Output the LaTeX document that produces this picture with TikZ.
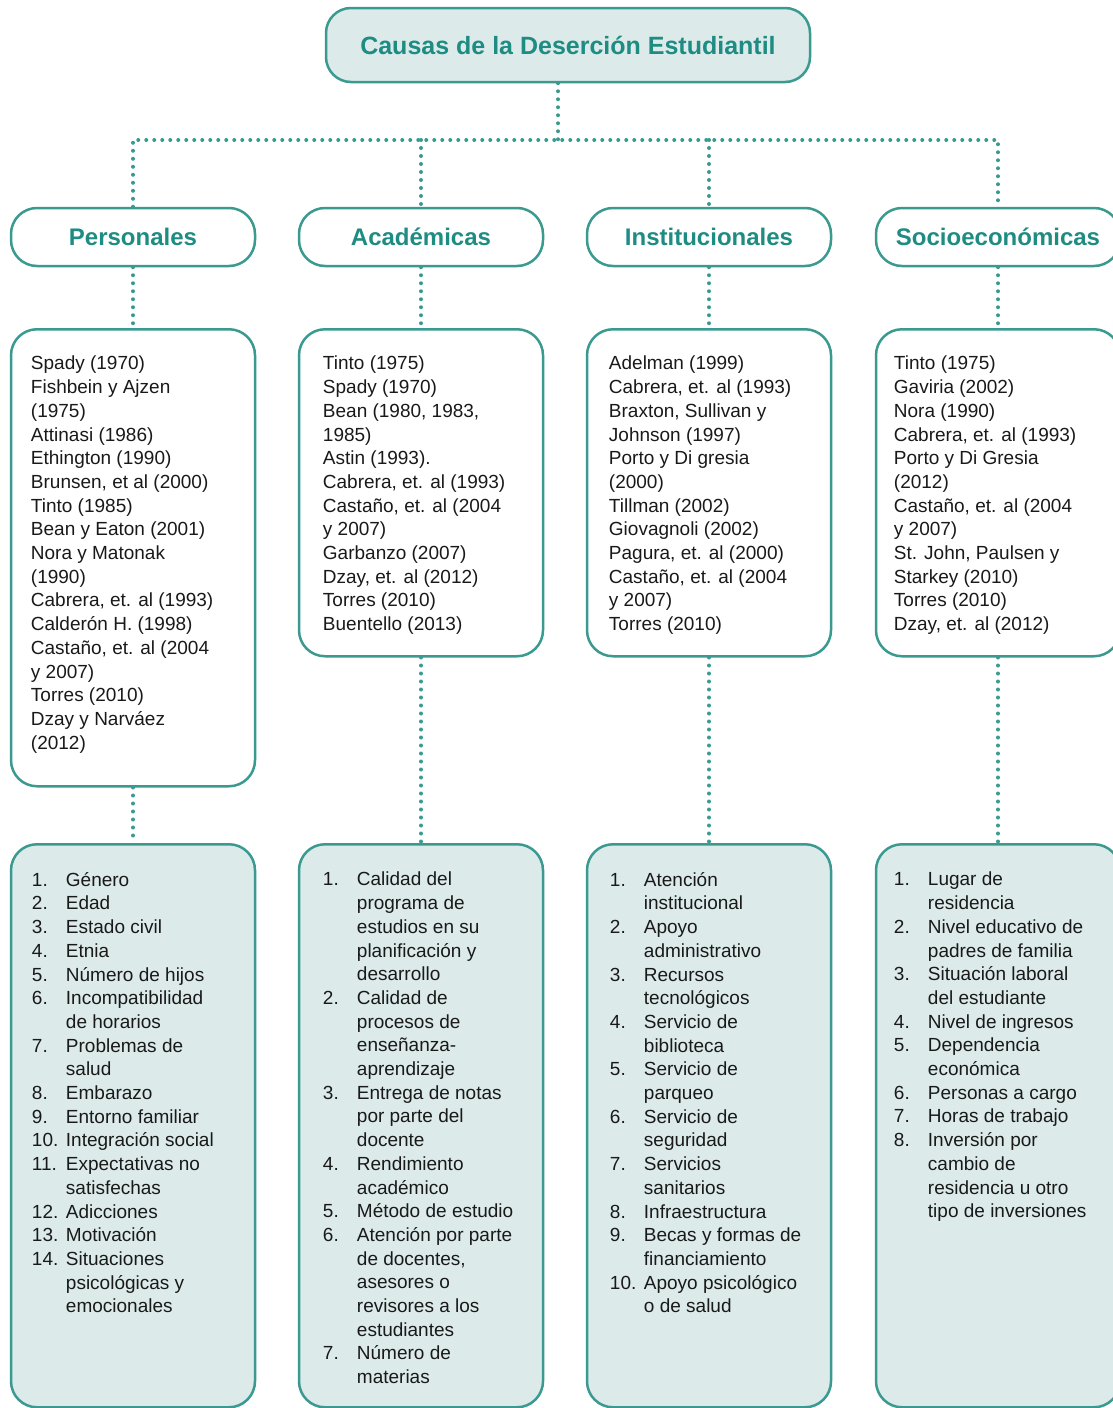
\documentclass[tikz,border=0pt]{standalone}
\usepackage{fontspec}
\setmainfont{Liberation Sans}
\usetikzlibrary{positioning}
\definecolor{tealline}{HTML}{3A9A90}
\definecolor{tealfill}{HTML}{DCEBEA}
\definecolor{tealtext}{HTML}{1E8C82}
\newcommand{\itm}[2]{\makebox[34pt][l]{#1}#2}
\newcommand{\cont}[1]{\hspace*{34pt}#1}

\begin{document}
\begin{tikzpicture}[x=1pt, y=-1pt,
    box/.style={draw=tealline, line width=2.5pt, rounded corners=26pt, minimum width=244pt, inner sep=0pt},
    cat/.style={box, minimum height=58pt, font=\fontsize{24}{28}\selectfont\bfseries, text=tealtext},
    refbox/.style={box, anchor=north},
    listbox/.style={box, anchor=north, fill=tealfill, minimum height=563pt},
    reftext/.style={inner sep=0pt, align=left, font=\fontsize{19}{23.7}\selectfont, text=black!90},
    link/.style={tealline, line width=4pt, line cap=round, dash pattern=on 0pt off 8pt}]
    \useasboundingbox (0,0) rectangle (1112,1408);

    % title and categories
    \node (Title) [box, fill=tealfill, minimum width=484pt, minimum height=74pt, rounded corners=25pt,
        font=\fontsize{25}{29}\selectfont\bfseries, text=tealtext] at (568,45) {Causas de la Deserción Estudiantil};
    \node (Pers) [cat] at (133,237) {Personales};
    \node (Acad) [cat] at (421,237) {Académicas};
    \node (Inst) [cat] at (709,237) {Institucionales};
    \node (Soc) [cat] at (998,237) {Socioeconómicas};
    \coordinate (bus) at (558,140);

    % authors
    \node (PersBox) [refbox, minimum height=457pt] at (133,328) {};
    \node (AcadBox) [refbox, minimum height=327pt] at (421,328) {};
    \node (InstBox) [refbox, minimum height=327pt] at (709,328) {};
    \node (SocBox) [refbox, minimum height=327pt] at (998,328) {};
    \node (PersRef) [reftext, below right=28pt and 21pt of PersBox.north west] {Spady (1970)\\ Fishbein y Ajzen\\ (1975)\\ Attinasi (1986)\\ Ethington (1990)\\ Brunsen, et al (2000)\\ Tinto (1985)\\ Bean y Eaton (2001)\\ Nora y Matonak\\ (1990)\\ Cabrera, et. al (1993)\\ Calderón H. (1998)\\ Castaño, et. al (2004\\ y 2007)\\ Torres (2010)\\ Dzay y Narváez\\ (2012)};
    \node (AcadRef) [reftext, below right=28pt and 25pt of AcadBox.north west] {Tinto (1975)\\ Spady (1970)\\ Bean (1980, 1983,\\ 1985)\\ Astin (1993).\\ Cabrera, et. al (1993)\\ Castaño, et. al (2004\\ y 2007)\\ Garbanzo (2007)\\ Dzay, et. al (2012)\\ Torres (2010)\\ Buentello (2013)};
    \node (InstRef) [reftext, below right=28pt and 23pt of InstBox.north west] {Adelman (1999)\\ Cabrera, et. al (1993)\\ Braxton, Sullivan y\\ Johnson (1997)\\ Porto y Di gresia\\ (2000)\\ Tillman (2002)\\ Giovagnoli (2002)\\ Pagura, et. al (2000)\\ Castaño, et. al (2004\\ y 2007)\\ Torres (2010)};
    \node (SocRef) [reftext, below right=28pt and 19pt of SocBox.north west] {Tinto (1975)\\ Gaviria (2002)\\ Nora (1990)\\ Cabrera, et. al (1993)\\ Porto y Di Gresia\\ (2012)\\ Castaño, et. al (2004\\ y 2007)\\ St. John, Paulsen y\\ Starkey (2010)\\ Torres (2010)\\ Dzay, et. al (2012)};

    % factors
    \node (PersList) [listbox] at (133,843) {};
    \node (AcadList) [listbox] at (421,843) {};
    \node (InstList) [listbox] at (709,843) {};
    \node (SocList) [listbox] at (998,843) {};
    \node (PersItems) [reftext, below right=29pt and 22pt of PersList.north west] {\itm{1.}{Género}\\ \itm{2.}{Edad}\\ \itm{3.}{Estado civil}\\ \itm{4.}{Etnia}\\ \itm{5.}{Número de hijos}\\ \itm{6.}{Incompatibilidad}\\ \cont{de horarios}\\ \itm{7.}{Problemas de}\\ \cont{salud}\\ \itm{8.}{Embarazo}\\ \itm{9.}{Entorno familiar}\\ \itm{10.}{Integración social}\\ \itm{11.}{Expectativas no}\\ \cont{satisfechas}\\ \itm{12.}{Adicciones}\\ \itm{13.}{Motivación}\\ \itm{14.}{Situaciones}\\ \cont{psicológicas y}\\ \cont{emocionales}};
    \node (AcadItems) [reftext, below right=29pt and 25pt of AcadList.north west] {\itm{1.}{Calidad del}\\ \cont{programa de}\\ \cont{estudios en su}\\ \cont{planificación y}\\ \cont{desarrollo}\\ \itm{2.}{Calidad de}\\ \cont{procesos de}\\ \cont{enseñanza-}\\ \cont{aprendizaje}\\ \itm{3.}{Entrega de notas}\\ \cont{por parte del}\\ \cont{docente}\\ \itm{4.}{Rendimiento}\\ \cont{académico}\\ \itm{5.}{Método de estudio}\\ \itm{6.}{Atención por parte}\\ \cont{de docentes,}\\ \cont{asesores o}\\ \cont{revisores a los}\\ \cont{estudiantes}\\ \itm{7.}{Número de}\\ \cont{materias}};
    \node (InstItems) [reftext, below right=29pt and 24pt of InstList.north west] {\itm{1.}{Atención}\\ \cont{institucional}\\ \itm{2.}{Apoyo}\\ \cont{administrativo}\\ \itm{3.}{Recursos}\\ \cont{tecnológicos}\\ \itm{4.}{Servicio de}\\ \cont{biblioteca}\\ \itm{5.}{Servicio de}\\ \cont{parqueo}\\ \itm{6.}{Servicio de}\\ \cont{seguridad}\\ \itm{7.}{Servicios}\\ \cont{sanitarios}\\ \itm{8.}{Infraestructura}\\ \itm{9.}{Becas y formas de}\\ \cont{financiamiento}\\ \itm{10.}{Apoyo psicológico}\\ \cont{o de salud}};
    \node (SocItems) [reftext, below right=29pt and 19pt of SocList.north west] {\itm{1.}{Lugar de}\\ \cont{residencia}\\ \itm{2.}{Nivel educativo de}\\ \cont{padres de familia}\\ \itm{3.}{Situación laboral}\\ \cont{del estudiante}\\ \itm{4.}{Nivel de ingresos}\\ \itm{5.}{Dependencia}\\ \cont{económica}\\ \itm{6.}{Personas a cargo}\\ \itm{7.}{Horas de trabajo}\\ \itm{8.}{Inversión por}\\ \cont{cambio de}\\ \cont{residencia u otro}\\ \cont{tipo de inversiones}};

    % dotted links
    \draw [link] (Title.south -| bus) -- (bus);
    \draw [link] (Pers.north) -- (Pers.north |- bus) -- (Soc.north |- bus) -- (Soc.north);
    \draw [link] (Acad.north |- bus) -- (Acad.north);
    \draw [link] (Inst.north |- bus) -- (Inst.north);
    \draw [link] (Pers.south) -- (PersBox.north);
    \draw [link] (Acad.south) -- (AcadBox.north);
    \draw [link] (Inst.south) -- (InstBox.north);
    \draw [link] (Soc.south) -- (SocBox.north);
    \draw [link] (PersBox.south) -- (PersList.north);
    \draw [link] (AcadBox.south) -- (AcadList.north);
    \draw [link] (InstBox.south) -- (InstList.north);
    \draw [link] (SocBox.south) -- (SocList.north);
\end{tikzpicture}
\end{document}
